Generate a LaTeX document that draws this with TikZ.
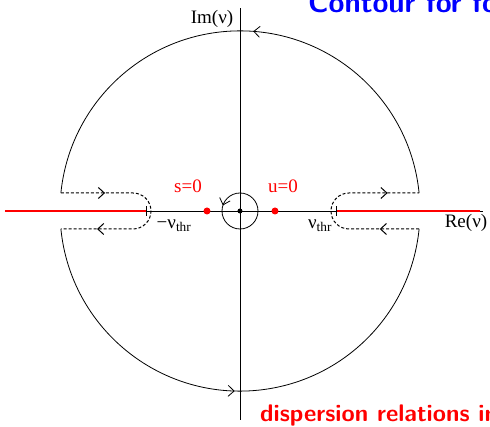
\documentclass[tikz,border=0pt]{standalone}
\usepackage{fontspec}
\newfontfamily\labfont{Liberation Serif}
\usetikzlibrary{arrows.meta,decorations.markings}

\begin{document}
\begin{tikzpicture}[x=1pt, y=1pt,
  axis/.style={line width=0.8pt},
  cutline/.style={red, line width=1.6pt},
  bigarc/.style={line width=0.8pt},
  detour/.style={line width=1pt, dash pattern=on 3pt off 2pt},
  lab/.style={font=\labfont\fontsize{19}{19}\selectfont, inner sep=0pt},
  hdr/.style={font=\sffamily\bfseries, inner sep=0pt, anchor=base west},
  dot/.style={circle, fill, inner sep=0pt, minimum size=5pt},
  pole/.style={circle, fill=red, inner sep=0pt, minimum size=7pt},
  barb/.tip={Straight Barb[length=6pt, width=11pt]},
  midarrow/.style={postaction={decorate}, decoration={markings,
    mark=at position #1 with {\arrow{barb}}}},
  twoarrows/.style 2 args={postaction={decorate}, decoration={markings,
    mark=at position #1 with {\arrow{barb}},
    mark=at position #2 with {\arrow{barb}}}}
]
\useasboundingbox (-240,-216) rectangle (250,211);

% axes
\coordinate (O) at (0,0);
\coordinate (xl) at (-235,0);
\coordinate (xr) at (243,0);
\coordinate (yb) at (0,-209);
\coordinate (yt) at (0,203);
\draw[axis] (xl) -- (xr);
\draw[axis] (yb) -- (yt);

% cuts and thresholds
\coordinate (thrl) at (-94,0);
\coordinate (thrr) at (96,0);
\draw[cutline] (xl) -- (thrl);
\draw[cutline] (thrr) -- (240,0);
\draw[axis] (thrl) ++(0,-5) -- ++(0,10);
\draw[axis] (thrr) ++(0,-5) -- ++(0,10);

% big circle, two arcs
\coordinate (ur) at (179.1,18);
\coordinate (ul) at (-179.1,18);
\coordinate (ll) at (-179.1,-18);
\coordinate (lr) at (179.1,-18);
\draw[bigarc, midarrow=0.475] (ur) arc[start angle=5.7, end angle=174.3, radius=180];
\draw[bigarc, midarrow=0.49] (ll) arc[start angle=185.7, end angle=354.3, radius=180];

% detours around the cuts
\draw[detour, twoarrows={0.22}{0.82}] (ul) -- (-107,18)
  arc[start angle=90, end angle=-90, radius=18] -- (ll);
\draw[detour, twoarrows={0.2}{0.84}] (lr) -- (109,-18)
  arc[start angle=270, end angle=90, radius=18] -- (ur);

% small loop round the origin
\draw[bigarc, midarrow=0.45] (O) ++(18,0) arc[start angle=0, end angle=360, radius=18];
\node[dot] (orig) at (O) {};
\node[pole] (spole) at (-33,0) {};
\node[pole] (upole) at (35,0) {};

% labels
\node[lab, red] (slab) at (-52,25) {s=0};
\node[lab, red] (ulab) at (43,25) {u=0};
\node[lab] (thrllab) at (-66,-15) {−ν\textsubscript{thr}};
\node[lab] (thrrlab) at (80,-15) {ν\textsubscript{thr}};
\node[lab] (relab) at (226,-12) {Re(ν)};
\node[lab] (imlab) at (-28,192) {Im(ν)};

\node[hdr, blue, font=\sffamily\bfseries\fontsize{29}{29}\selectfont] (title) at (68,198) {Contour for fo};
\node[hdr, red, font=\sffamily\bfseries\fontsize{24}{24}\selectfont] (foot) at (20,-211) {dispersion relations in};
\end{tikzpicture}
\end{document}
